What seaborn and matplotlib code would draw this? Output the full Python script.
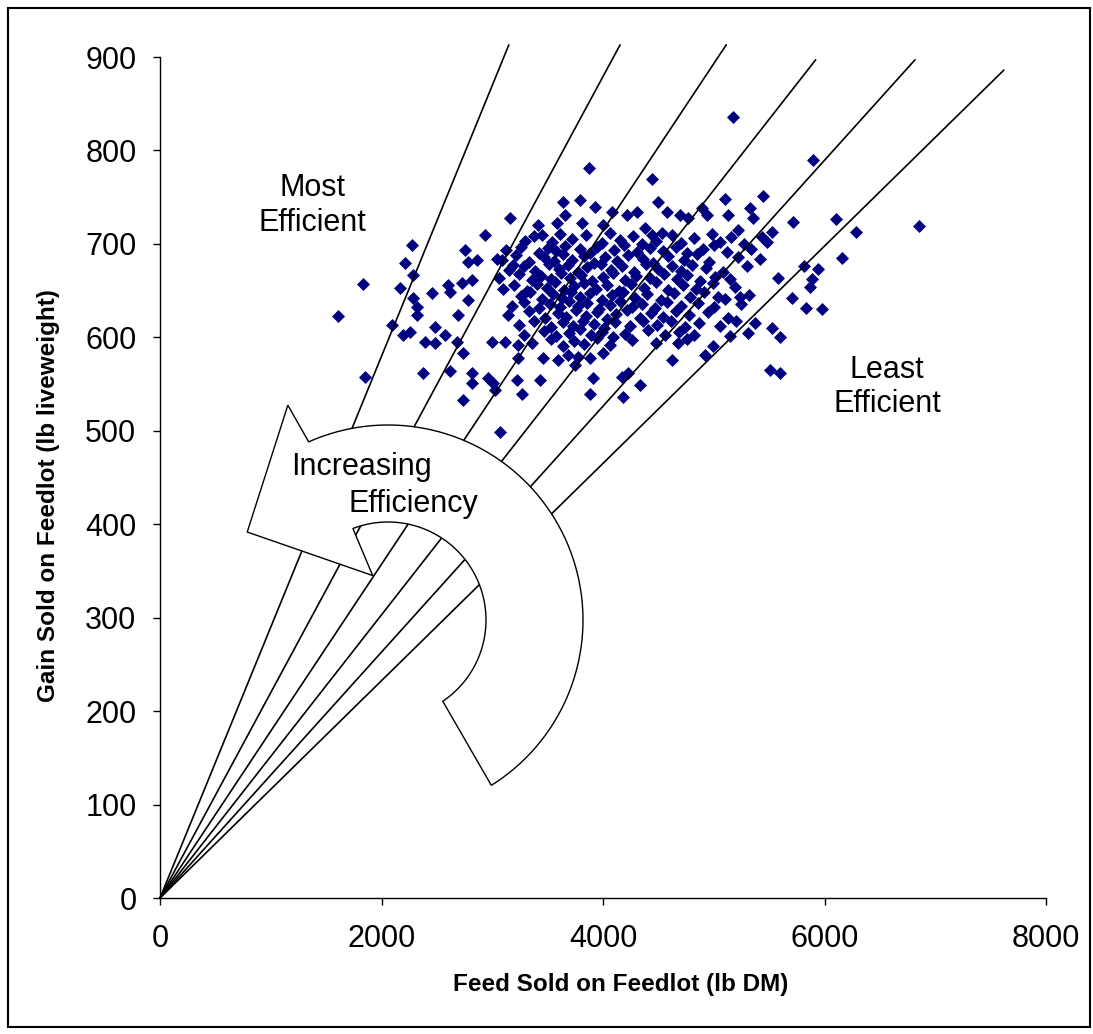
import numpy as np
import pandas as pd
import matplotlib
matplotlib.use("Agg")
import matplotlib.pyplot as plt
from matplotlib.patches import Polygon, Rectangle
import seaborn as sns

# ---- data ----
FEED = [
    1607, 1833, 1851, 2095, 2167, 2212, 2276, 2285, 2285, 2321,
    2321, 2194, 2258, 2456, 2483, 2393, 2483, 2375, 2574, 2619,
    2682, 2736, 2691, 2601, 2619, 2727, 2754, 2781, 2781, 2817,
    2817, 2817, 2736, 3070, 3025, 3269, 3883, 4181, 2935, 2998,
    3115, 3232, 3232, 2962, 3007, 3223, 3458, 3431, 3594, 3684,
    3774, 3883, 3747, 4000, 3910, 4172, 4623, 4677, 4921, 4226,
    4334, 5508, 5039, 5373, 5237, 5526, 3874, 5174, 4443, 5897,
    6854, 6104, 6285, 5716, 6158, 5815, 5942, 5888, 5870, 5707,
    5833, 5978, 5599, 5599, 5581, 4497, 4307, 4578, 4217, 4695,
    5102, 5445, 5328, 5355, 5129, 4894, 4940, 4768, 5219, 5436,
    5526, 4380, 4443, 4533, 3639, 3793, 3928, 4082, 3657, 3160,
    3585, 3413, 3449, 3811, 4000, 3088, 3187, 2862,
    # core
    3300, 3380, 3540, 3610, 3720, 3850, 3990, 4060, 4150, 4270,
    4350, 4480, 4620, 4700, 4820, 4980, 5060, 5160, 5270, 5480,
    3120, 3260, 3420, 3500, 3580, 3660, 3790, 3880, 3950, 4100,
    4190, 4310, 4420, 4540, 4660, 4760, 4900, 5000, 5120, 5340,
    3040, 3210, 3330, 3470, 3560, 3640, 3720, 3830, 3920, 4020,
    4130, 4230, 4360, 4450, 4590, 4730, 4850, 4960, 5220, 5420,
    3150, 3290, 3390, 3510, 3600, 3680, 3770, 3860, 3980, 4070,
    4170, 4280, 4390, 4500, 4620, 4700, 4800, 4930, 5080, 5300,
    3060, 3240, 3360, 3440, 3530, 3620, 3700, 3800, 3900, 4000,
    4090, 4200, 4300, 4420, 4550, 4670, 4760, 4880, 5010, 5150,
    3100, 3200, 3310, 3400, 3490, 3570, 3650, 3740, 3830, 3940,
    4040, 4140, 4250, 4370, 4480, 4590, 4720, 4840, 4990, 5190,
    3260, 3340, 3450, 3550, 3630, 3710, 3790, 3880, 3990, 4080,
    4180, 4290, 4400, 4520, 4640, 4790, 4910, 5100, 5320,
    3180, 3290, 3420, 3520, 3610, 3690, 3770, 3860, 3960, 4060,
    4150, 4260, 4350, 4470, 4580, 4700, 4860, 5000, 5250,
    3140, 3330, 3480, 3590, 3670, 3760, 3850, 3950, 4040, 4120,
    4220, 4330, 4430, 4540, 4660, 4780, 4950, 5130,
    3240, 3380, 3530, 3640, 3730, 3820, 3920, 4010, 4110, 4240,
    4360, 4490, 4610, 4740, 4870, 5060, 5200,
    3290, 3470, 3580, 3690, 3790, 3890, 3990, 4090, 4200, 4410,
    4560, 4690, 4820, 5150, 5310,
    3360, 3530, 3640, 3740, 3830, 3950, 4060, 4260, 4480, 4760,
    4990,
]
GAIN = [
    623, 657, 558, 613, 653, 680, 699, 667, 642, 632,
    624, 602, 606, 647, 611, 595, 594, 562, 602, 564,
    595, 583, 624, 656, 649, 658, 693, 681, 640, 562,
    551, 661, 533, 499, 544, 539, 539, 536, 710, 595,
    595, 592, 578, 557, 551, 554, 578, 554, 576, 581,
    579, 578, 570, 583, 557, 558, 576, 594, 581, 562,
    549, 565, 643, 615, 643, 610, 781, 836, 769, 790,
    719, 727, 713, 723, 685, 676, 673, 662, 654, 642,
    631, 630, 600, 562, 663, 745, 734, 734, 731, 731,
    748, 751, 738, 728, 731, 738, 731, 728, 715, 707,
    713, 717, 710, 712, 745, 747, 740, 734, 731, 728,
    722, 720, 710, 722, 720, 683, 677, 683,
    # core
    703, 708, 702, 711, 705, 709, 701, 712, 704, 708,
    700, 703, 709, 701, 706, 711, 702, 707, 700, 702,
    693, 697, 690, 696, 692, 698, 694, 690, 697, 693,
    699, 691, 696, 692, 697, 690, 694, 699, 691, 695,
    684, 688, 681, 686, 682, 689, 683, 687, 680, 686,
    682, 688, 684, 680, 687, 683, 689, 681, 686, 684,
    672, 676, 671, 678, 673, 677, 670, 675, 679, 672,
    676, 670, 678, 673, 676, 671, 677, 674, 670, 676,
    664, 668, 661, 666, 662, 669, 663, 667, 660, 665,
    669, 661, 666, 663, 668, 662, 667, 660, 665, 662,
    652, 656, 650, 657, 653, 659, 651, 655, 658, 652,
    656, 650, 657, 653, 659, 651, 656, 652, 658, 654,
    644, 648, 641, 646, 642, 649, 643, 647, 640, 645,
    649, 642, 646, 640, 647, 643, 648, 641, 645,
    634, 638, 631, 636, 632, 639, 633, 637, 630, 635,
    639, 632, 636, 631, 638, 633, 637, 632, 636,
    624, 628, 621, 626, 622, 629, 623, 627, 620, 625,
    629, 621, 626, 622, 628, 624, 627, 621,
    613, 617, 611, 616, 612, 618, 614, 610, 616, 612,
    618, 613, 617, 611, 615, 612, 617,
    603, 607, 601, 605, 609, 602, 606, 600, 604, 608,
    602, 606, 603, 601, 605,
    594, 598, 591, 596, 593, 599, 592, 597, 594, 598,
    591,
]

# feed:gain ratios of the guide lines and the gain where each line stops
RATIOS = [3.45, 4.55, 5.6, 6.6, 7.6, 8.6]
END_GAIN = [913, 913, 913, 897, 897, 886]

X_TICKS = [0, 2000, 4000, 6000, 8000]
Y_TICKS = [0, 100, 200, 300, 400, 500, 600, 700, 800, 900]

# =========================
# figure
# =========================
sns.set_style("white")
plt.rcParams["font.family"] = ["Liberation Sans", "DejaVu Sans"]
plt.rcParams["text.color"] = "black"
plt.rcParams["axes.labelcolor"] = "black"

W, H = 1093, 1034
fig = plt.figure(figsize=(W / 100, H / 100), dpi=100)
AX_L, AX_B, AX_W, AX_H = 160, 136, 886, 841
ax = fig.add_axes([AX_L / W, AX_B / H, AX_W / W, AX_H / H])

df = pd.DataFrame({"feed": FEED, "gain": GAIN})
sns.scatterplot(data=df, x="feed", y="gain", marker="D", color="#000080",
                s=44, linewidth=0, ax=ax, zorder=2, legend=False)

for r, g in zip(RATIOS, END_GAIN):
    ax.plot([0, r * g], [0, g], color="black", lw=1.2, clip_on=False, zorder=2.5)

ax.set_xlim(0, 8000)
ax.set_ylim(0, 900)
ax.set_xticks(X_TICKS)
ax.set_yticks(Y_TICKS)
ax.tick_params(direction="out", length=5, width=1, colors="black", labelsize=22,
               bottom=True, left=True)
ax.tick_params(axis="y", pad=12)
ax.tick_params(axis="x", pad=14)
for s in ["top", "right"]:
    ax.spines[s].set_visible(False)
for s in ["left", "bottom"]:
    ax.spines[s].set_color("black")
    ax.spines[s].set_linewidth(1)

ax.set_xlabel("Feed Sold on Feedlot (lb DM)", fontsize=17.5, fontweight="bold",
              ha="center", va="center")
ax.xaxis.set_label_coords(0.520, -0.1034)
ax.set_ylabel("Gain Sold on Feedlot (lb liveweight)", fontsize=17.5,
              fontweight="bold", ha="center", va="center")
ax.yaxis.set_label_coords(-0.1264, 0.479)

# curved arrow, built in pixel space of the axes
CX, CY = 228, 278


def polar(r, a):
    t = np.radians(a)
    return CX + r * np.cos(t), CY + r * np.sin(t)


outer = [polar(195, a) for a in np.linspace(-58, 114, 80)]
head = [polar(237, 115), polar(166, 148), polar(47, 109)]
inner = [polar(98, a) for a in np.linspace(111, -56, 80)]
pts = np.array(outer + head + inner)
pts[:, 0] /= AX_W
pts[:, 1] /= AX_H
ax.add_patch(Polygon(pts, closed=True, facecolor="white", edgecolor="black",
                     lw=1.0, transform=ax.transAxes, zorder=3, clip_on=False))

ax.text(1373, 741, "Most\nEfficient", fontsize=22, ha="center", va="center",
        linespacing=1.2, zorder=4)
ax.text(6565, 547, "Least\nEfficient", fontsize=22, ha="center", va="center",
        linespacing=1.2, zorder=4)
ax.text(1815, 461, "Increasing", fontsize=22, ha="center", va="center", zorder=4)
ax.text(2285, 422, "Efficiency", fontsize=22, ha="center", va="center", zorder=4)

fig.add_artist(Rectangle((8 / W, 7 / H), (1090 - 8) / W, (1027 - 8) / H,
                         transform=fig.transFigure, fill=False,
                         edgecolor="black", lw=1.5))

fig.savefig("out.png", dpi=100)
